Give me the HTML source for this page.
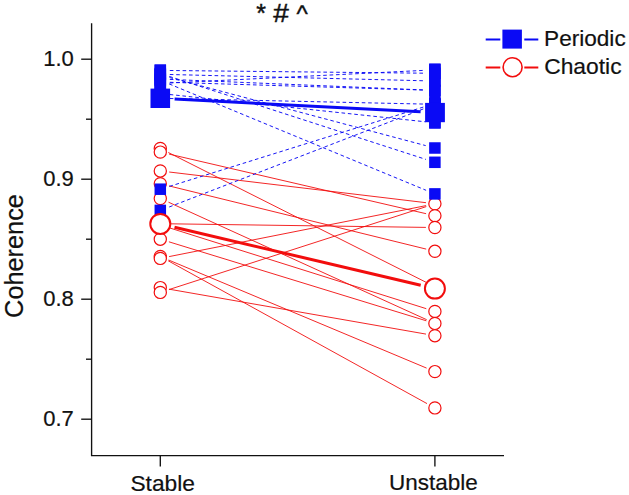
<!DOCTYPE html>
<html><head><meta charset="utf-8"><title>Coherence</title>
<style>html,body{margin:0;padding:0;background:#fff}body{width:629px;height:495px;position:relative;overflow:hidden}</style>
</head><body>
<svg width="629" height="495" viewBox="0 0 629 495" style="position:absolute;left:0;top:0">
<g stroke="#111" stroke-width="1.35" fill="none">
<path d="M91.6 23.2V455.6H504"/>
<path d="M81.2 59.2H91.6"/>
<path d="M81.2 179.2H91.6"/>
<path d="M81.2 299.2H91.6"/>
<path d="M81.2 419.2H91.6"/>
<path d="M86 119.2H91.6"/>
<path d="M86 239.2H91.6"/>
<path d="M86 359.2H91.6"/>
<path d="M160.3 455.6V466.5"/><path d="M434.9 455.6V466.5"/>
</g>
<g stroke="#f20d0d" stroke-width="0.9" fill="none">
<path d="M168.3 152.5L426.9 282.7"/>
<path d="M169.1 154.1L426.1 213.7"/>
<path d="M169.2 172.0L426.0 202.7"/>
<path d="M169.0 185.9L426.2 249.1"/>
<path d="M168.5 202.2L426.7 319.7"/>
<path d="M169.3 223.8L425.9 227.4"/>
<path d="M168.9 227.7L426.3 308.7"/>
<path d="M168.9 241.8L426.3 320.8"/>
<path d="M168.6 260.0L426.6 368.1"/>
<path d="M168.2 260.8L427.0 403.6"/>
<path d="M169.1 256.6L426.1 205.6"/>
<path d="M169.2 289.2L426.0 334.1"/>
<path d="M168.9 289.6L426.3 206.6"/>
</g>
<g stroke="#f20d0d" stroke-width="1.2" fill="#fff">
<circle cx="160.3" cy="148.4" r="6.1"/>
<circle cx="160.3" cy="152.1" r="6.1"/>
<circle cx="160.3" cy="170.9" r="6.1"/>
<circle cx="160.3" cy="183.7" r="6.1"/>
<circle cx="160.3" cy="198.5" r="6.1"/>
<circle cx="160.3" cy="223.7" r="6.1"/>
<circle cx="160.3" cy="225.0" r="6.1"/>
<circle cx="160.3" cy="239.2" r="6.1"/>
<circle cx="160.3" cy="256.5" r="6.1"/>
<circle cx="160.3" cy="258.4" r="6.1"/>
<circle cx="160.3" cy="287.6" r="6.1"/>
<circle cx="160.3" cy="292.4" r="6.1"/>
<circle cx="434.9" cy="203.8" r="6.1"/>
<circle cx="434.9" cy="215.7" r="6.1"/>
<circle cx="434.9" cy="227.5" r="6.1"/>
<circle cx="434.9" cy="251.3" r="6.1"/>
<circle cx="434.9" cy="286.8" r="6.1"/>
<circle cx="434.9" cy="311.4" r="6.1"/>
<circle cx="434.9" cy="323.4" r="6.1"/>
<circle cx="434.9" cy="335.7" r="6.1"/>
<circle cx="434.9" cy="371.6" r="6.1"/>
<circle cx="434.9" cy="407.9" r="6.1"/>
</g>
<g stroke="#0a0af5" stroke-width="0.95" fill="none" stroke-dasharray="3.6 2.8">
<path d="M169.8 70.5L425.4 73.2"/>
<path d="M169.8 83.0L425.4 70.3"/>
<path d="M169.8 74.5L425.4 80.8"/>
<path d="M169.8 82.3L425.4 90.1"/>
<path d="M169.8 79.4L425.4 90.0"/>
<path d="M169.8 98.5L425.4 104.1"/>
<path d="M169.7 94.5L425.5 121.8"/>
<path d="M169.5 77.5L425.7 145.6"/>
<path d="M169.3 76.4L425.9 159.4"/>
<path d="M169.1 83.9L426.1 190.3"/>
<path d="M169.4 186.4L425.8 106.3"/>
<path d="M169.2 207.0L426.0 107.9"/>
</g>
<g fill="#0a0af5">
<rect x="154.55" y="64.65" width="11.5" height="11.5"/>
<rect x="154.55" y="67.75" width="11.5" height="11.5"/>
<rect x="154.55" y="68.55" width="11.5" height="11.5"/>
<rect x="154.55" y="69.35" width="11.5" height="11.5"/>
<rect x="154.55" y="73.25" width="11.5" height="11.5"/>
<rect x="154.55" y="74.55" width="11.5" height="11.5"/>
<rect x="154.55" y="76.25" width="11.5" height="11.5"/>
<rect x="154.55" y="77.75" width="11.5" height="11.5"/>
<rect x="154.55" y="87.75" width="11.5" height="11.5"/>
<rect x="154.55" y="92.55" width="11.5" height="11.5"/>
<rect x="154.55" y="183.45" width="11.5" height="11.5"/>
<rect x="154.55" y="204.65" width="11.5" height="11.5"/>
<rect x="429.15" y="64.05" width="11.5" height="11.5"/>
<rect x="429.15" y="67.55" width="11.5" height="11.5"/>
<rect x="429.15" y="75.25" width="11.5" height="11.5"/>
<rect x="429.15" y="84.65" width="11.5" height="11.5"/>
<rect x="429.15" y="97.75" width="11.5" height="11.5"/>
<rect x="429.15" y="98.55" width="11.5" height="11.5"/>
<rect x="429.15" y="98.75" width="11.5" height="11.5"/>
<rect x="429.15" y="117.05" width="11.5" height="11.5"/>
<rect x="429.15" y="142.25" width="11.5" height="11.5"/>
<rect x="429.15" y="156.55" width="11.5" height="11.5"/>
<rect x="429.15" y="188.15" width="11.5" height="11.5"/>
<rect x="154.55" y="64.4" width="11.5" height="39.6"/>
<rect x="429.15" y="63.4" width="11.5" height="65.1"/>
<rect x="150.5" y="88.6" width="19.6" height="19.4"/>
<rect x="425.1" y="102.9" width="19.8" height="19.3"/>
</g>
<path d="M174.6 99.0L420.6 111.8" stroke="#0a0af5" stroke-width="3" fill="none"/>
<path d="M174.5 227.2L420.7 285.3" stroke="#f20d0d" stroke-width="3" fill="none"/>
<circle cx="160.3" cy="223.9" r="10" stroke="#f20d0d" stroke-width="2" fill="#fff"/>
<circle cx="434.9" cy="288.6" r="10" stroke="#f20d0d" stroke-width="2" fill="#fff"/>
<path d="M485.7 39.4H500.3M524.3 39.4H538.3" stroke="#0a0af5" stroke-width="2"/>
<rect x="502.4" y="29.6" width="19.5" height="19" fill="#0a0af5"/>
<path d="M485.7 67.5H500.3M524.3 67.5H538.3" stroke="#f20d0d" stroke-width="2"/>
<circle cx="512.6" cy="67.2" r="9.5" stroke="#f20d0d" stroke-width="1.6" fill="#fff"/>
<text x="73.8" y="65.7" font-size="22" text-anchor="end" font-family="Liberation Sans, sans-serif" fill="#111" stroke="#111" stroke-width="0.2">1.0</text>
<text x="73.8" y="185.7" font-size="22" text-anchor="end" font-family="Liberation Sans, sans-serif" fill="#111" stroke="#111" stroke-width="0.2">0.9</text>
<text x="73.8" y="305.7" font-size="22" text-anchor="end" font-family="Liberation Sans, sans-serif" fill="#111" stroke="#111" stroke-width="0.2">0.8</text>
<text x="73.8" y="425.7" font-size="22" text-anchor="end" font-family="Liberation Sans, sans-serif" fill="#111" stroke="#111" stroke-width="0.2">0.7</text>
<text x="130.4" y="491.3" font-size="22.4" textLength="64.5" lengthAdjust="spacingAndGlyphs" font-family="Liberation Sans, sans-serif" fill="#111" stroke="#111" stroke-width="0.2">Stable</text>
<text x="388.9" y="490.4" font-size="22.4" textLength="88.8" lengthAdjust="spacingAndGlyphs" font-family="Liberation Sans, sans-serif" fill="#111" stroke="#111" stroke-width="0.2">Unstable</text>
<text x="544.1" y="46.4" font-size="22.4" textLength="81.6" lengthAdjust="spacingAndGlyphs" font-family="Liberation Sans, sans-serif" fill="#111" stroke="#111" stroke-width="0.2">Periodic</text>
<text x="544.2" y="74.4" font-size="22.4" textLength="77.4" lengthAdjust="spacingAndGlyphs" font-family="Liberation Sans, sans-serif" fill="#111" stroke="#111" stroke-width="0.2">Chaotic</text>
<g font-family="Liberation Sans, sans-serif" fill="#111" stroke="#111" stroke-width="0.45"><text x="256.3" y="22.1" font-size="25">*</text><text x="273.2" y="22.1" font-size="26" textLength="15.6" lengthAdjust="spacingAndGlyphs">#</text><text x="296.4" y="21.8" font-size="24">^</text></g>
<text transform="translate(23 256) rotate(-90)" font-size="25.3" text-anchor="middle" font-family="Liberation Sans, sans-serif" fill="#111" stroke="#111" stroke-width="0.2">Coherence</text>
</svg>
</body></html>
